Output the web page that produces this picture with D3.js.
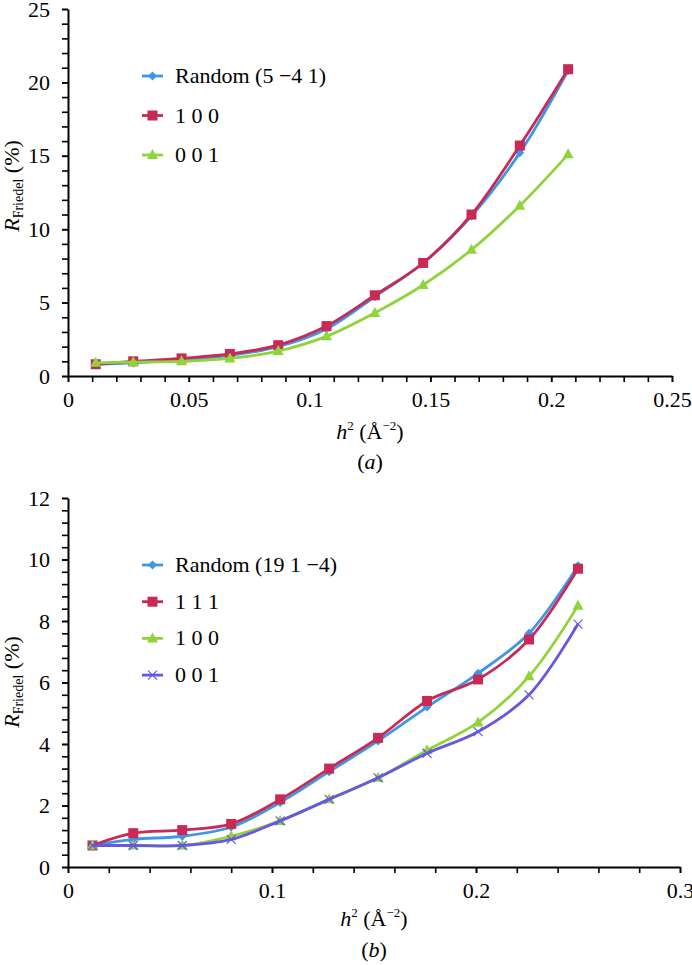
<!DOCTYPE html>
<html>
<head>
<meta charset="utf-8">
<script src="https://cdn.jsdelivr.net/npm/d3@7"></script>
<style>
  body { margin: 0; background: #fff; }
  svg text { font-family: "Liberation Serif", "Times New Roman", "DejaVu Serif", serif; }
</style>
</head>
<body>
<div id="chart"></div>
<script>
// panel (a)
const xA = [0.0115, 0.027, 0.047, 0.067, 0.087, 0.107, 0.127, 0.147, 0.167, 0.187, 0.207];
const aRandom = [0.8, 0.9, 1.1, 1.4, 2.0, 3.2, 5.4, 7.7, 10.9, 15.2, 20.8];
const a100 = [0.8, 1.0, 1.2, 1.5, 2.1, 3.4, 5.5, 7.7, 11.0, 15.7, 20.9];
const a001 = [0.9, 0.95, 1.0, 1.2, 1.7, 2.7, 4.3, 6.2, 8.6, 11.6, 15.1];
const labelsA = ["Random (5 \u22124 1)", "1 0 0", "0 0 1"];

// panel (b)
const xB = [0.012, 0.032, 0.056, 0.080, 0.104, 0.128, 0.152, 0.176, 0.201, 0.226, 0.250];
const bRandom = [0.7, 0.9, 1.0, 1.3, 2.1, 3.1, 4.1, 5.2, 6.3, 7.6, 9.8];
const b111 = [0.7, 1.1, 1.2, 1.4, 2.2, 3.2, 4.2, 5.4, 6.1, 7.4, 9.7];
const b100 = [0.7, 0.7, 0.7, 1.0, 1.5, 2.2, 2.9, 3.8, 4.7, 6.2, 8.5];
const b001 = [0.7, 0.7, 0.7, 0.9, 1.5, 2.2, 2.9, 3.7, 4.4, 5.6, 7.9];
const labelsB = ["Random (19 1 \u22124)", "1 1 1", "1 0 0", "0 0 1"];

const colors = {blue: "#3d97e6", red: "#c82a55", green: "#8fd43a", purple: "#6658e0"};
const serif = "Liberation Serif, Times New Roman, DejaVu Serif, serif";
const fs = 22;

const width = 692, height = 965;
const svg = d3.select("#chart").append("svg")
    .attr("width", width).attr("height", height)
    .attr("font-family", serif);

function marker(g, type, color) {
  if (type == "diamond") {
    g.append("path").attr("d", "M0,-4.5L4.5,0L0,4.5L-4.5,0Z").attr("fill", color);
  } else if (type == "square") {
    g.append("rect").attr("x", -5).attr("y", -5).attr("width", 10).attr("height", 10).attr("fill", color);
  } else if (type == "triangle") {
    g.append("path").attr("d", "M0,-6L5.5,4L-5.5,4Z").attr("fill", color);
  } else if (type == "cross") {
    g.append("path").attr("d", "M-4.5,-4.5L4.5,4.5M-4.5,4.5L4.5,-4.5")
      .attr("stroke", color).attr("stroke-width", 1.2).attr("fill", "none");
  }
}

function panel(cfg) {
  const x = d3.scaleLinear().domain([0, cfg.xmax]).range([68, cfg.xRight]);
  const y = d3.scaleLinear().domain([0, cfg.ymax]).range([cfg.yBottom, cfg.yTop]);
  const fmt = d => String(+d.toFixed(3));
  const g = svg.append("g");

  // minor ticks
  g.append("g").attr("transform", `translate(0,${cfg.yBottom})`)
    .call(d3.axisBottom(x).tickValues(d3.range(0, cfg.xmax + 1e-9, cfg.xMinor)).tickSize(6).tickFormat(""))
    .call(s => s.select(".domain").remove());
  g.append("g").attr("transform", `translate(68,0)`)
    .call(d3.axisLeft(y).tickValues(d3.range(0, cfg.ymax + 1e-9, cfg.yMinor)).tickSize(6).tickFormat(""))
    .call(s => s.select(".domain").remove());

  // major ticks with labels
  const ax = g.append("g").attr("transform", `translate(0,${cfg.yBottom})`)
    .call(d3.axisBottom(x).tickValues(d3.range(0, cfg.xmax + 1e-9, cfg.xMajor)).tickSize(6).tickSizeOuter(0).tickPadding(9).tickFormat(fmt));
  const ay = g.append("g").attr("transform", `translate(68,0)`)
    .call(d3.axisLeft(y).tickValues(d3.range(0, cfg.ymax + 1e-9, cfg.yMajor)).tickSize(6).tickSizeOuter(0).tickPadding(12).tickFormat(fmt));
  [ax, ay].forEach(a => {
    a.attr("font-family", serif).attr("font-size", fs);
    a.selectAll("text").attr("fill", "#000");
    a.select(".domain").attr("stroke-width", 2);
  });
  g.selectAll(".tick line").attr("stroke-width", 1.6);

  // series
  const line = d3.line().x((d, i) => x(cfg.xs[i])).y(d => y(d)).curve(d3.curveCatmullRom.alpha(0.5));
  cfg.series.forEach(s => {
    g.append("path").datum(s.values).attr("d", line)
      .attr("fill", "none").attr("stroke", s.color).attr("stroke-width", 2.8);
    s.values.forEach((v, i) => {
      const m = g.append("g").attr("transform", `translate(${x(cfg.xs[i])},${y(v)})`);
      marker(m, s.marker, s.color);
    });
  });

  // legend
  cfg.series.forEach((s, i) => {
    const ly = cfg.legendY + i * cfg.legendStep;
    g.append("line").attr("x1", 142).attr("x2", 163).attr("y1", ly).attr("y2", ly)
      .attr("stroke", s.color).attr("stroke-width", 2.8);
    marker(g.append("g").attr("transform", `translate(152.5,${ly})`), s.marker, s.color);
    g.append("text").attr("x", 175).attr("y", ly + 7).attr("font-size", fs).text(s.label);
  });

  // axis titles
  const cx = (68 + cfg.xRight) / 2;
  const xt = g.append("text").attr("x", cx).attr("y", cfg.titleY).attr("text-anchor", "middle").attr("font-size", fs);
  xt.append("tspan").attr("font-style", "italic").text("h");
  xt.append("tspan").attr("font-size", 13).attr("dy", -9).text("2");
  xt.append("tspan").attr("dy", 9).text(" (\u00c5");
  xt.append("tspan").attr("font-size", 13).attr("dy", -9).text("\u22122");
  xt.append("tspan").attr("dy", 9).text(")");

  const yt = g.append("text").attr("transform", `translate(19,${cfg.yTitleY}) rotate(-90)`)
    .attr("text-anchor", "middle").attr("font-size", fs);
  yt.append("tspan").attr("font-style", "italic").text("R");
  yt.append("tspan").attr("font-size", 14).attr("dy", 4).text("Friedel");
  yt.append("tspan").attr("dy", -4).text(" (%)");

  const cap = g.append("text").attr("x", cx).attr("y", cfg.capY).attr("text-anchor", "middle").attr("font-size", fs);
  cap.append("tspan").text("(");
  cap.append("tspan").attr("font-style", "italic").text(cfg.cap);
  cap.append("tspan").text(")");
}

panel({
  xmax: 0.25, xRight: 672, xMajor: 0.05, xMinor: 0.01,
  ymax: 25, yTop: 9, yBottom: 376, yMajor: 5, yMinor: 1,
  xs: xA,
  series: [
    {label: labelsA[0], values: aRandom, color: colors.blue, marker: "diamond"},
    {label: labelsA[1], values: a100, color: colors.red, marker: "square"},
    {label: labelsA[2], values: a001, color: colors.green, marker: "triangle"}
  ],
  legendY: 76, legendStep: 39.5, titleY: 439, yTitleY: 186, capY: 469, cap: "a"
});

panel({
  xmax: 0.3, xRight: 680, xMajor: 0.1, xMinor: 0.02,
  ymax: 12, yTop: 498, yBottom: 867, yMajor: 2, yMinor: 0.4,
  xs: xB,
  series: [
    {label: labelsB[0], values: bRandom, color: colors.blue, marker: "diamond"},
    {label: labelsB[1], values: b111, color: colors.red, marker: "square"},
    {label: labelsB[2], values: b100, color: colors.green, marker: "triangle"},
    {label: labelsB[3], values: b001, color: colors.purple, marker: "cross"}
  ],
  legendY: 565, legendStep: 36.7, titleY: 926, yTitleY: 682, capY: 957, cap: "b"
});
</script>
</body>
</html>
